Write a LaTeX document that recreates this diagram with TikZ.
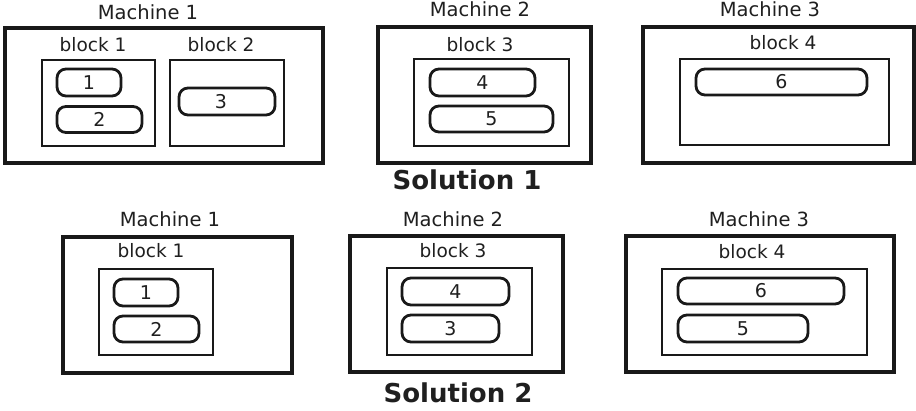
\documentclass[tikz,border=0pt]{standalone}
\usepackage{fontspec}
\setmainfont{DejaVu Sans}
\begin{document}
\begin{tikzpicture}[x=1pt,y=-1pt,
  every node/.style={inner sep=0pt, outer sep=0pt, text=black!88},
  mach/.style={draw=black!90, line width=3.3pt},
  blk/.style={draw=black!90, line width=2.2pt},
  itm/.style={draw=black!90, line width=2.8pt, rounded corners=9pt, font=\fontsize{19}{21}\selectfont},
  lbl/.style={anchor=base, font=\fontsize{19.5}{22}\selectfont},
  blbl/.style={anchor=base, font=\fontsize{18.5}{21}\selectfont},
  sol/.style={anchor=base, font=\fontsize{26}{29}\selectfont\bfseries}]
\useasboundingbox (0,0) rectangle (916,411);
% ---------- Solution 1 ----------
\node[lbl] (t11) at (148,19.5) {Machine 1};
\node[mach, line width=4pt, minimum width=318pt, minimum height=135pt] (s1m1) at (164,95.5) {};
\node[blbl] (tb11) at (93,52) {block 1};
\node[blk, minimum width=113pt, minimum height=86pt] (s1b1) at (98.5,103) {};
\node[blbl] (tb12) at (221,52) {block 2};
\node[blk, minimum width=114pt, minimum height=86pt] (s1b2) at (227,103) {};
\node[itm, minimum width=64pt, minimum height=27pt] (s1i1) at (89,82.5) {1};
\node[itm, minimum width=85pt, minimum height=26pt] (s1i2) at (99.5,119.5) {2};
\node[itm, minimum width=96pt, minimum height=27pt] (s1i3) at (227,101.5) {\hspace*{-12pt}3};

\node[lbl] (t12) at (480,17) {Machine 2};
\node[mach, minimum width=213pt, minimum height=136pt] (s1m2) at (484.5,95) {};
\node[blbl] (tb13) at (480,52) {block 3};
\node[blk, minimum width=155pt, minimum height=87pt] (s1b3) at (491.5,102.5) {};
\node[itm, minimum width=105pt, minimum height=27pt] (s1i4) at (482.5,82.5) {4};
\node[itm, minimum width=123pt, minimum height=26pt] (s1i5) at (491.5,119) {5};

\node[lbl] (t13) at (770,17) {Machine 3};
\node[mach, minimum width=271pt, minimum height=136pt] (s1m3) at (778.5,95) {};
\node[blbl] (tb14) at (783,50) {block 4};
\node[blk, minimum width=209pt, minimum height=86pt] (s1b4) at (784.5,102) {};
\node[itm, minimum width=171pt, minimum height=26pt] (s1i6) at (781.5,82) {6};

\node[sol] (sol1) at (467,190) {Solution 1};
% ---------- Solution 2 ----------
\node[lbl] (t21) at (170,227) {Machine 1};
\node[mach, minimum width=229pt, minimum height=136pt] (s2m1) at (177.5,305) {};
\node[blbl] (tb21) at (151,258) {block 1};
\node[blk, minimum width=114pt, minimum height=86pt] (s2b1) at (156,312) {};
\node[itm, minimum width=64pt, minimum height=27pt] (s2i1) at (146,292.5) {1};
\node[itm, minimum width=85pt, minimum height=26pt] (s2i2) at (156.5,329) {2};

\node[lbl] (t22) at (453,227) {Machine 2};
\node[mach, minimum width=213pt, minimum height=136pt] (s2m2) at (456.5,304) {};
\node[blbl] (tb23) at (453,258) {block 3};
\node[blk, minimum width=145pt, minimum height=87pt] (s2b3) at (459.5,311.5) {};
\node[itm, minimum width=107pt, minimum height=27pt] (s2i4) at (455.5,291.5) {4};
\node[itm, minimum width=97pt, minimum height=27pt] (s2i3) at (450.5,328.5) {3};

\node[lbl] (t23) at (759,227) {Machine 3};
\node[mach, minimum width=268pt, minimum height=136pt] (s2m3) at (760,304) {};
\node[blbl] (tb24) at (752,259) {block 4};
\node[blk, minimum width=205pt, minimum height=86pt] (s2b4) at (764.5,312) {};
\node[itm, minimum width=166pt, minimum height=26pt] (s2i6) at (761,291) {6};
\node[itm, minimum width=130pt, minimum height=27pt] (s2i5) at (743,328.5) {5};

\node[sol] (sol2) at (458,403) {Solution 2};
\end{tikzpicture}
\end{document}
